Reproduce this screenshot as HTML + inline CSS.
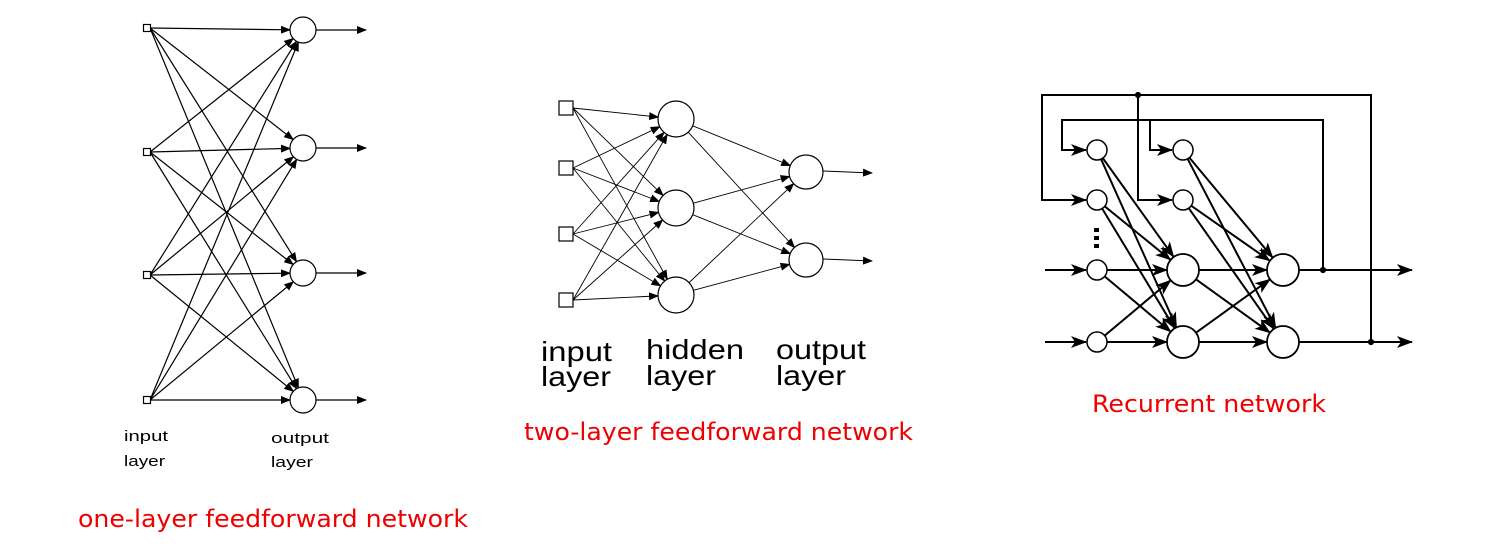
<!DOCTYPE html>
<html><head><meta charset="utf-8"><style>
body{margin:0;background:#fff;width:1505px;height:550px;overflow:hidden;font-family:"DejaVu Sans","Liberation Sans",sans-serif}
svg{position:absolute;left:0;top:0}
</style></head><body>
<svg width="1505" height="550">
<defs>
<marker id="a" markerWidth="10" markerHeight="8" refX="9" refY="4" orient="auto" markerUnits="userSpaceOnUse"><path d="M0,0 L10,4 L0,8 z" fill="#000"/></marker>
<marker id="b" markerWidth="16" markerHeight="12" refX="15" refY="6" orient="auto" markerUnits="userSpaceOnUse"><path d="M0,0 L16,6 L0,12 L4,6 z" fill="#000"/></marker>
</defs>
<g id="g1"></g>
<g id="g2"></g>
<g id="g3"></g>
<g font-family="Liberation Sans, sans-serif">
<text x="124" y="441" font-size="15" textLength="44" lengthAdjust="spacingAndGlyphs">input</text>
<text x="124" y="466" font-size="15" textLength="41" lengthAdjust="spacingAndGlyphs">layer</text>
<text x="271" y="443" font-size="15" textLength="58" lengthAdjust="spacingAndGlyphs">output</text>
<text x="271" y="467" font-size="15" textLength="42" lengthAdjust="spacingAndGlyphs">layer</text>
<text x="541" y="361" font-size="28" textLength="71" lengthAdjust="spacingAndGlyphs">input</text>
<text x="541" y="386" font-size="28" textLength="70" lengthAdjust="spacingAndGlyphs">layer</text>
<text x="646" y="359" font-size="28" textLength="98" lengthAdjust="spacingAndGlyphs">hidden</text>
<text x="646" y="385" font-size="28" textLength="70" lengthAdjust="spacingAndGlyphs">layer</text>
<text x="776" y="359" font-size="28" textLength="90" lengthAdjust="spacingAndGlyphs">output</text>
<text x="776" y="385" font-size="28" textLength="70" lengthAdjust="spacingAndGlyphs">layer</text>
</g>
<text x="78" y="527" font-size="24" fill="#e00" textLength="390" lengthAdjust="spacingAndGlyphs">one-layer feedforward network</text>
<text x="524" y="440" font-size="24" fill="#e00" textLength="389" lengthAdjust="spacingAndGlyphs">two-layer feedforward network</text>
<text x="1092" y="412" font-size="24" fill="#e00" textLength="234" lengthAdjust="spacingAndGlyphs">Recurrent network</text>
</svg>
<script>
const NS="http://www.w3.org/2000/svg";
function el(g,t,at){const e=document.createElementNS(NS,t);for(const k in at)e.setAttribute(k,at[k]);g.appendChild(e);return e;}
function line(g,x1,y1,x2,y2,m,w){const l=el(g,'line',{x1,y1,x2,y2,stroke:'#000','stroke-width':w||1.3});if(m)l.setAttribute('marker-end','url(#'+m+')');return l;}
function circ(g,cx,cy,r,w){const c=el(g,'circle',{cx,cy,r,fill:'#fff',stroke:'#000','stroke-width':w||1.2});return c;}
function sq(g,x,y,s){const r=el(g,'rect',{x:x-s/2,y:y-s/2,width:s,height:s,fill:'#fff',stroke:'#000','stroke-width':1.2});}
const g1=document.getElementById('g1');
const in1=[28,152,275,400],out1=[30,148,273,400];
in1.forEach(y=>out1.forEach(o=>{const dx=290-150,dy=o-y,L=Math.hypot(dx,dy);line(g1,150,y,303-13*dx/L,o-13*dy/L,'a',1.2);}));
in1.forEach(y=>sq(g1,147,y,7));
out1.forEach(y=>{circ(g1,303,y,13);line(g1,316,y,366,y,'a',1.3);});
const g2=document.getElementById('g2');
const in2=[108,168,234,300],hid=[119,208,295],out2=[172,260];
in2.forEach(y=>hid.forEach(h=>{const dx=676-573,dy=h-y,L=Math.hypot(dx,dy);line(g2,573,y,676-18*dx/L,h-18*dy/L,'a',0.9);}));
hid.forEach(h=>out2.forEach(o=>{const dx=806-676,dy=o-h,L=Math.hypot(dx,dy);line(g2,676+18*dx/L,h+18*dy/L,806-17*dx/L,o-17*dy/L,'a',0.9);}));
in2.forEach(y=>sq(g2,566,y,14));
hid.forEach(y=>circ(g2,676,y,18));
out2.forEach(y=>{circ(g2,806,y,17);line(g2,823,y-1,872,y+1,'a',1);});
const g3=document.getElementById('g3');
const c1=[150,200,270,342],c2=[150,200],big=[270,342];
const W=2;
[[c1,1097,10],[c2,1183,10]].forEach(([ys,x])=>ys.forEach(y=>big.forEach(b=>{const tx=(x===1097)?1183:1283;const dx=tx-x,dy=b-y,L=Math.hypot(dx,dy);line(g3,x+8*dx/L,y+8*dy/L,tx-16*dx/L,b-16*dy/L,'b',W);})));
big.forEach(y=>big.forEach(b=>{const dx=100,dy=b-y,L=Math.hypot(dx,dy);line(g3,1183+16*dx/L,y+16*dy/L,1283-16*dx/L,b-16*dy/L,'b',W);}));
const p=(d)=>{const e=el(g3,'path',{d,fill:'none',stroke:'#000','stroke-width':W});return e;};
p('M1371,342 L1371,95 L1042,95 L1042,200 L1086,200').setAttribute('marker-end','url(#b)');
p('M1138,95 L1138,200 L1172,200').setAttribute('marker-end','url(#b)');
p('M1323,270 L1323,120 L1062,120 L1062,150 L1086,150').setAttribute('marker-end','url(#b)');
p('M1150,120 L1150,150 L1172,150').setAttribute('marker-end','url(#b)');
line(g3,1045,270,1086,270,'b',W);line(g3,1045,342,1086,342,'b',W);
line(g3,1299,270,1412,270,'b',W);line(g3,1299,342,1412,342,'b',W);
[[1138,95],[1323,270],[1371,342]].forEach(([x,y])=>circ(g3,x,y,2.5).setAttribute('fill','#000'));
c1.forEach(y=>circ(g3,1097,y,10,1.5));
c2.forEach(y=>circ(g3,1183,y,10,1.5));
big.forEach(y=>{circ(g3,1183,y,16,1.8);circ(g3,1283,y,16,1.8);});
[228,236,244].forEach(y=>el(g3,'rect',{x:1094,y,width:5,height:4,fill:'#000'}));
</script>
</body></html>
